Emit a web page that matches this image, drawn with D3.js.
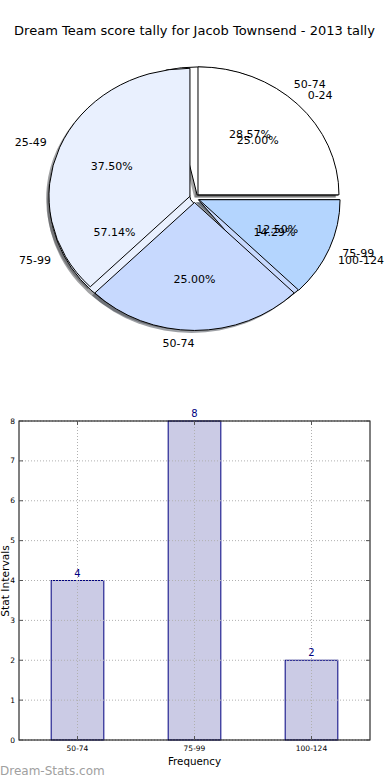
<!DOCTYPE html>
<html>
<head>
<meta charset="utf-8">
<script src="https://cdn.jsdelivr.net/npm/d3@7"></script>
<style>
  html, body { margin: 0; padding: 0; background: #fff; }
  svg { display: block; font-family: "DejaVu Sans", sans-serif; }
</style>
</head>
<body>
<svg id="chart" width="390" height="780"></svg>
<script>
// ---------- data ----------
const titleText = "Dream Team score tally for Jacob Townsend - 2013 tally";
const pieALabels = ["0-24", "25-49", "50-74", "75-99"];
const pieAValues = [2, 3, 2, 1];
const pieBLabels = ["50-74", "75-99", "100-124"];
const pieBValues = [4, 8, 2];
const pieColors = ["#ffffff", "#e9f0fe", "#c7d9fe", "#b4d5fe"];
const barCategories = ["50-74", "75-99", "100-124"];
const barValues = [4, 8, 2];
const yTickValues = [0, 1, 2, 3, 4, 5, 6, 7, 8];
const xAxisTitle = "Frequency";
const yAxisTitle = "Stat Intervals";
const watermark = "Dream-Stats.com";

(function () {
// ---------- layout ----------
const svg = d3.select("#chart");
svg.append("text").attr("x", 194.5).attr("y", 34.5).attr("text-anchor", "middle")
  .attr("font-size", 13).attr("fill", "#000").text(titleText);

const cx = 194.5, cy = 198, rx = 141, ry = 128;
const pieGen = d3.pie().sort(null).startAngle(Math.PI / 2).endAngle(Math.PI / 2 - 2 * Math.PI);
const arcGen = d3.arc().innerRadius(0).outerRadius(1);

function buildPie(labels, values, explode) {
  const total = d3.sum(values);
  return pieGen(values).map((d, i) => {
    const mid = (d.startAngle + d.endAngle) / 2;
    const ux = Math.sin(mid), uy = -Math.cos(mid);
    return { d, i, label: labels[i], pct: (values[i] / total * 100).toFixed(2) + "%",
      ux, uy, ox: explode * ux, oy: explode * uy };
  });
}
const pieA = buildPie(pieALabels, pieAValues, 0.035);
const pieB = buildPie(pieBLabels, pieBValues, 0.03);

const pieLayer = svg.append("g");
function shadowColor(c0) {
  const c = d3.color(c0);
  return d3.rgb(c.r * 0.3, c.g * 0.3, c.b * 0.3).toString();
}
function drawShadows(p) {
  pieLayer.selectAll(null).data(p).enter().append("path")
    .attr("transform", s => `translate(${cx + (s.ox - 0.02) * rx},${cy + (s.oy + 0.02) * ry}) scale(${rx},${ry})`)
    .attr("d", s => arcGen(s.d))
    .attr("fill", s => shadowColor(pieColors[s.i]))
    .attr("fill-opacity", 0.5);
}
function drawWedges(p) {
  pieLayer.selectAll(null).data(p).enter().append("path")
    .attr("transform", s => `translate(${cx + s.ox * rx},${cy + s.oy * ry}) scale(${rx},${ry})`)
    .attr("d", s => arcGen(s.d))
    .attr("fill", s => pieColors[s.i])
    .attr("stroke", "#000").attr("stroke-width", 1)
    .attr("vector-effect", "non-scaling-stroke");
}
function drawTexts(p) {
  p.forEach(s => {
    const lxn = s.ox + 1.1 * s.ux;
    const lx = cx + lxn * rx, ly = cy + (s.oy + 1.1 * s.uy) * ry;
    svg.append("text").attr("x", lx).attr("y", ly)
      .attr("text-anchor", lxn > 0 ? "start" : "end")
      .attr("dominant-baseline", "central").attr("font-size", 11).text(s.label);
    const px = cx + (s.ox + 0.6 * s.ux) * rx, py = cy + (s.oy + 0.6 * s.uy) * ry;
    svg.append("text").attr("x", px).attr("y", py).attr("text-anchor", "middle")
      .attr("dominant-baseline", "central").attr("font-size", 11).text(s.pct);
  });
}
drawShadows(pieB); drawShadows(pieA);
drawWedges(pieB); drawWedges(pieA);
drawTexts(pieB); drawTexts(pieA);

// ---------- bar chart ----------
const pLeft = 19, pRight = 370, pTop = 421, pBottom = 740;
const x = d3.scaleLinear().domain([-0.5, barCategories.length - 0.5]).range([pLeft, pRight]);
const y = d3.scaleLinear().domain([0, 8]).range([pBottom, pTop]);
const barW = 0.45;
const g = svg.append("g");

// bars
g.selectAll(null).data(barValues).enter().append("rect")
  .attr("x", (d, i) => x(i - barW / 2))
  .attr("width", (d, i) => x(i + barW / 2) - x(i - barW / 2))
  .attr("y", d => y(d)).attr("height", d => y(0) - y(d))
  .attr("fill", "#cbcbe5").attr("stroke", "#000080").attr("stroke-width", 1);

// grid (on top)
g.selectAll(null).data(barCategories).enter().append("line")
  .attr("x1", (d, i) => x(i)).attr("x2", (d, i) => x(i)).attr("y1", pTop).attr("y2", pBottom)
  .attr("stroke", "#b0b0b0").attr("stroke-dasharray", "1,2");
g.selectAll(null).data(yTickValues).enter().append("line")
  .attr("x1", pLeft).attr("x2", pRight).attr("y1", d => y(d)).attr("y2", d => y(d))
  .attr("stroke", "#b0b0b0").attr("stroke-dasharray", "1,2");

// value labels
g.selectAll(null).data(barValues).enter().append("text")
  .attr("x", (d, i) => x(i)).attr("y", d => y(d) - 4).attr("text-anchor", "middle")
  .attr("font-size", 10).attr("fill", "#000080").text(d => d);

// frame
g.append("rect").attr("x", pLeft).attr("y", pTop).attr("width", pRight - pLeft).attr("height", pBottom - pTop)
  .attr("fill", "none").attr("stroke", "#000").attr("stroke-width", 1);

// ticks
g.selectAll(null).data(yTickValues).enter().append("line")
  .attr("x1", pLeft).attr("x2", pLeft + 4).attr("y1", d => y(d)).attr("y2", d => y(d)).attr("stroke", "#555");
g.selectAll(null).data(yTickValues).enter().append("line")
  .attr("x1", pRight - 4).attr("x2", pRight).attr("y1", d => y(d)).attr("y2", d => y(d)).attr("stroke", "#555");
g.selectAll(null).data(barCategories).enter().append("line")
  .attr("x1", (d, i) => x(i)).attr("x2", (d, i) => x(i)).attr("y1", pBottom - 4).attr("y2", pBottom).attr("stroke", "#555");
g.selectAll(null).data(barCategories).enter().append("line")
  .attr("x1", (d, i) => x(i)).attr("x2", (d, i) => x(i)).attr("y1", pTop).attr("y2", pTop + 4).attr("stroke", "#555");

// tick labels
g.selectAll(null).data(yTickValues).enter().append("text")
  .attr("x", pLeft - 4).attr("y", d => y(d)).attr("text-anchor", "end")
  .attr("dominant-baseline", "central").attr("font-size", 7.5).text(d => d);
g.selectAll(null).data(barCategories).enter().append("text")
  .attr("x", (d, i) => x(i)).attr("y", pBottom + 8).attr("text-anchor", "middle")
  .attr("dominant-baseline", "central").attr("font-size", 7.5).text(d => d);

// axis titles
svg.append("text").attr("x", 194.5).attr("y", 765).attr("text-anchor", "middle")
  .attr("font-size", 10.3).text(xAxisTitle);
svg.append("text").attr("transform", "translate(5,581) rotate(-90)").attr("text-anchor", "middle")
  .attr("dominant-baseline", "central").attr("font-size", 10.7).text(yAxisTitle);

// watermark
svg.append("text").attr("x", 0).attr("y", 775).attr("font-size", 12)
  .attr("fill", "#a0a0a0").text(watermark);
})();
</script>
</body>
</html>
